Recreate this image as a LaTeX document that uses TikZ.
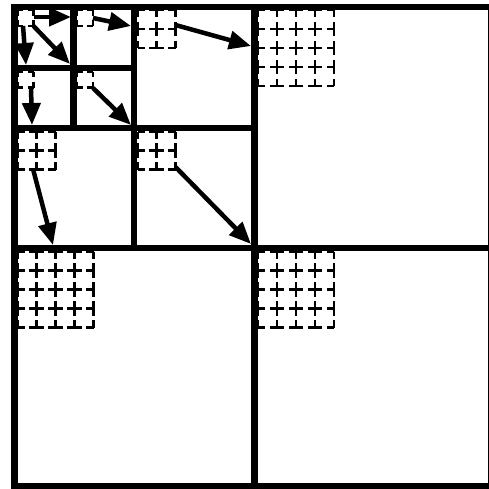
\documentclass[tikz,border=0pt]{standalone}
\usetikzlibrary{arrows.meta}
\tikzset{
  cell/.style={line width=6.5pt, line join=miter},
  pointer/.style={line width=4.5pt, -{Triangle[length=22pt,width=18pt]}},
}
% dashed grid: origin x, origin y, count n, cell size s
\newcommand{\dgrid}[4]{%
  \pgfmathsetmacro{\gon}{#4-4.5}%
  \pgfmathsetmacro{\gph}{(#4-4.5)/2}%
  \foreach \i in {0,...,#3}{%
    \draw[line width=2.2pt, dash pattern=on \gon pt off 4.5pt, dash phase=\gph pt]
      (#1,#2+\i*#4) -- (#1+#3*#4,#2+\i*#4);
    \draw[line width=2.2pt, dash pattern=on \gon pt off 4.5pt, dash phase=\gph pt]
      (#1+\i*#4,#2) -- (#1+\i*#4,#2+#3*#4);
  }%
}
\begin{document}
\begin{tikzpicture}[x=1pt,y=-1pt]
\clip (0,0) rectangle (489,488);
\fill[white] (0,0) rectangle (489,488);

% quadtree cells
\draw[cell] (14.5,7) rectangle (491,486);
\draw[cell] (254.5,7) -- (254.5,486);
\draw[cell] (14.5,248) -- (491,248);
\draw[cell] (134,7) -- (134,248);
\draw[cell] (14.5,128) -- (254.5,128);
\draw[cell] (73.5,7) -- (73.5,128);
\draw[cell] (14.5,68) -- (134,68);

% dashed grids
\dgrid{17.5}{10}{1}{16}
\dgrid{77}{10}{1}{16}
\dgrid{17.5}{71.5}{1}{16}
\dgrid{77}{71.5}{1}{16}
\dgrid{137.5}{10}{2}{19}
\dgrid{17.5}{131.5}{2}{19}
\dgrid{137.5}{131.5}{2}{19}
\dgrid{258}{10}{4}{19}
\dgrid{17.5}{251.5}{4}{19}
\dgrid{258}{251.5}{4}{19}

% arrow end points
\coordinate (a1s) at (33.5,17);  \coordinate (a1e) at (71,17);
\coordinate (a2s) at (23,26);    \coordinate (a2e) at (26,65);
\coordinate (a3s) at (33.5,26);  \coordinate (a3e) at (70,64);
\coordinate (a4s) at (93,18);    \coordinate (a4e) at (131,26);
\coordinate (a5s) at (31,88);    \coordinate (a5e) at (32,125);
\coordinate (a6s) at (93,88);    \coordinate (a6e) at (131,125);
\coordinate (a7s) at (175.5,25); \coordinate (a7e) at (251,46);
\coordinate (a8s) at (33,169);   \coordinate (a8e) at (53,245);
\coordinate (a9s) at (175.5,167);\coordinate (a9e) at (251,244);

\foreach \k in {1,...,9}{\draw[pointer] (a\k s) -- (a\k e);}
\end{tikzpicture}
\end{document}
